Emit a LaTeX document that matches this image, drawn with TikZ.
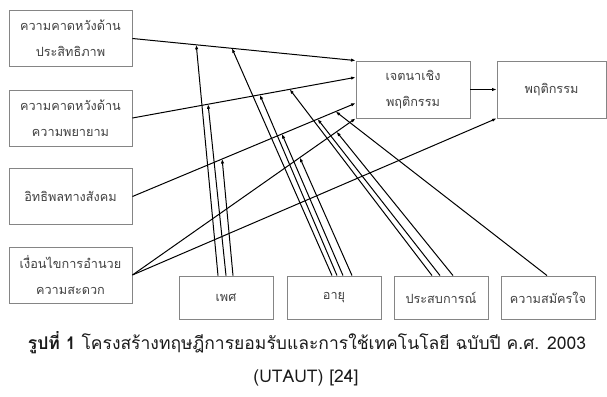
\documentclass[tikz,border=0pt]{standalone}
\usepackage{fontspec}
\newfontfamily\thaifont[Script=Thai]{Loma}
\usetikzlibrary{arrows.meta,calc}
\definecolor{boxgray}{HTML}{858585}
\definecolor{txtgray}{HTML}{404040}
\definecolor{capblack}{HTML}{1A1A1A}
\begin{document}
\begin{tikzpicture}[x=1pt,y=-1pt,
  box/.style={draw=boxgray,line width=0.9pt,inner sep=0pt,align=center,text=txtgray,
    font=\thaifont\fontsize{12.7}{26}\selectfont},
  leftbox/.style={box,minimum width=123pt,minimum height=56pt},
  midbox/.style={box,minimum width=114pt,minimum height=57pt},
  modbox/.style={box,minimum width=94pt,minimum height=43pt},
  link/.style={line width=1pt,-{Latex[length=4.5pt,width=3.4pt]}},
  captext/.style={text=capblack,inner sep=0pt,font=\thaifont\fontsize{17.5}{20}\selectfont}]
\useasboundingbox (0,0) rectangle (607,396);

% left constructs
\node[leftbox] (pe) at (70.5,38.5) {ความคาดหวังด้าน\\ประสิทธิภาพ};
\node[leftbox] (ee) at (70.5,118) {ความคาดหวังด้าน\\ความพยายาม};
\node[leftbox] (si) at (70.5,196.5) {อิทธิพลทางสังคม};
\node[leftbox] (fc) at (70.5,275) {เงื่อนไขการอำนวย\\ความสะดวก};

% intention and behaviour
\node[midbox] (int) at (413,89.5) {เจตนาเชิง\\พฤติกรรม};
\node[box,minimum width=109pt,minimum height=57pt] (beh) at (551.5,89.5) {พฤติกรรม};

% moderators
\node[modbox] (gen) at (226,297.5) {เพศ};
\node[modbox] (age) at (334,297.5) {อายุ};
\node[modbox] (exp) at (441,297.5) {ประสบการณ์};
\node[modbox] (vol) at (548,297.5) {ความสมัครใจ};

% main arrow end points
\coordinate (tPE) at (int.north west);
\coordinate (tEE) at ($(int.north west)!0.29!(int.south west)$);
\coordinate (tSI) at ($(int.north west)!0.737!(int.south west)$);
\coordinate (tFC) at (int.south west);

\draw[link] (pe.east) -- (tPE);
\draw[link] (ee.east) -- (tEE);
\draw[link] (si.east) -- (tSI);
\draw[link] (fc.east) -- (tFC);
\draw[link] (fc.east) -- (beh.south west);
\draw[link] (int.east) -- (beh.west);

% moderator targets on the main paths
\coordinate (g1) at ($(pe.east)!0.286!(tPE)$);
\coordinate (a1) at ($(pe.east)!0.446!(tPE)$);
\coordinate (g2) at ($(ee.east)!0.339!(tEE)$);
\coordinate (a2) at ($(ee.east)!0.571!(tEE)$);
\coordinate (e1) at ($(ee.east)!0.705!(tEE)$);
\coordinate (g3) at ($(si.east)!0.402!(tSI)$);
\coordinate (a3) at ($(si.east)!0.670!(tSI)$);
\coordinate (e2) at ($(si.east)!0.830!(tSI)$);
\coordinate (v1) at ($(si.east)!0.911!(tSI)$);
\coordinate (a4) at ($(fc.east)!0.750!(tFC)$);
\coordinate (e3) at ($(fc.east)!0.915!(tFC)$);

% moderator start points
\coordinate (g1s) at ($(gen.north)+(-8,0)$);
\coordinate (g2s) at ($(gen.north)+(0,0)$);
\coordinate (g3s) at ($(gen.north)+(7,0)$);
\coordinate (a1s) at ($(age.north)+(-2,0)$);
\coordinate (a2s) at ($(age.north)+(3,0)$);
\coordinate (a3s) at ($(age.north)+(9,0)$);
\coordinate (a4s) at ($(age.north)+(18,0)$);
\coordinate (e1s) at ($(exp.north)+(-9,0)$);
\coordinate (e2s) at ($(exp.north)+(-1,0)$);
\coordinate (e3s) at ($(exp.north)+(12,0)$);
\coordinate (v1s) at ($(vol.north)+(-1,0)$);

\foreach \s/\t in {g1s/g1,g2s/g2,g3s/g3,a1s/a1,a2s/a2,a3s/a3,a4s/a4,e1s/e1,e2s/e2,e3s/e3,v1s/v1}
  \draw[link] (\s) -- (\t);

% caption
\node[captext] (cap1) at (307,343) {\textbf{รูปที่ 1} โครงสร้างทฤษฎีการยอมรับและการใช้เทคโนโลยี ฉบับปี ค.ศ. 2003};
\node[captext] (cap2) at (306,378) {(UTAUT) [24]};
\end{tikzpicture}
\end{document}
